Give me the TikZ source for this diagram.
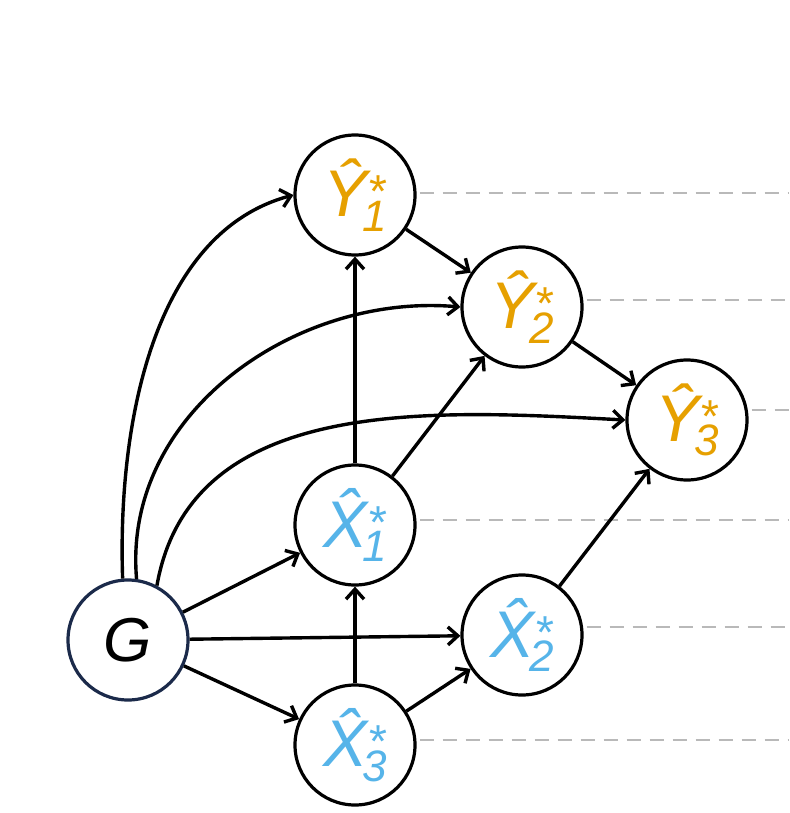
\documentclass[tikz,border=0pt]{standalone}
\usepackage{fontspec}
\setmainfont{Liberation Sans}
\usetikzlibrary{arrows.meta}
\definecolor{ycol}{HTML}{E6A000}
\definecolor{xcol}{HTML}{56B4E9}
\definecolor{gcol}{HTML}{1B2A4A}
\newcommand{\lab}[2]{\itshape\fontsize{66}{66}\selectfont\^{#1}\textsuperscript{*}\kern-0.35em\raisebox{-0.42ex}{\fontsize{44}{44}\selectfont #2}}
\begin{document}
\begin{tikzpicture}[x=1pt,y=-1pt,
  vnode/.style={circle,draw=black,line width=3.2pt,minimum size=120pt,inner sep=0pt,fill=white},
  arr/.style={line width=3.4pt,-{Straight Barb[length=10pt,width=18pt,line width=3.4pt]}},
  dline/.style={gray!55,line width=2.6pt,dash pattern=on 14pt off 9pt}]
\useasboundingbox (0,0) rectangle (789,813);
\node[vnode] (Y1) at (355,195) {\color{ycol}\lab{Y}{1}};
\node[vnode] (Y2) at (522,307) {\color{ycol}\lab{Y}{2}};
\node[vnode] (Y3) at (687,420) {\color{ycol}\lab{Y}{3}};
\node[vnode] (X1) at (355,525) {\color{xcol}\lab{X}{1}};
\node[vnode] (X2) at (522,635) {\color{xcol}\lab{X}{2}};
\node[vnode] (X3) at (355,745) {\color{xcol}\lab{X}{3}};
\node[vnode,draw=gcol] (G) at (128,640) {\itshape\fontsize{62}{62}\selectfont G};
\coordinate (e1) at (789,193);
\coordinate (e2) at (789,300);
\coordinate (e3) at (789,410);
\coordinate (e4) at (789,520);
\coordinate (e5) at (789,627);
\coordinate (e6) at (789,740);
\draw[dline] (Y1.east) ++(3,-2) -- (e1);
\draw[dline] (Y2.east) ++(3,-7) -- (e2);
\draw[dline] (Y3.east) ++(3,-10) -- (e3);
\draw[dline] (X1.east) ++(3,-5) -- (e4);
\draw[dline] (X2.east) ++(3,-8) -- (e5);
\draw[dline] (X3.east) ++(3,-5) -- (e6);
\draw[arr] (G.95) to[out=92,in=195,looseness=0.9] (Y1.west);
\draw[arr] (G.82) to[out=95,in=175] (Y2.west);
\draw[arr] (G.62) to[out=80,in=177] (Y3.west);
\draw[arr] (G) -- (X1);
\draw[arr] (G) -- (X2);
\draw[arr] (G) -- (X3);
\draw[arr] (X3) -- (X1);
\draw[arr] (X3) -- (X2);
\draw[arr] (X1) -- (Y1);
\draw[arr] (X1) -- (Y2);
\draw[arr] (Y1) -- (Y2);
\draw[arr] (Y2) -- (Y3);
\draw[arr] (X2) -- (Y3);
\end{tikzpicture}
\end{document}
